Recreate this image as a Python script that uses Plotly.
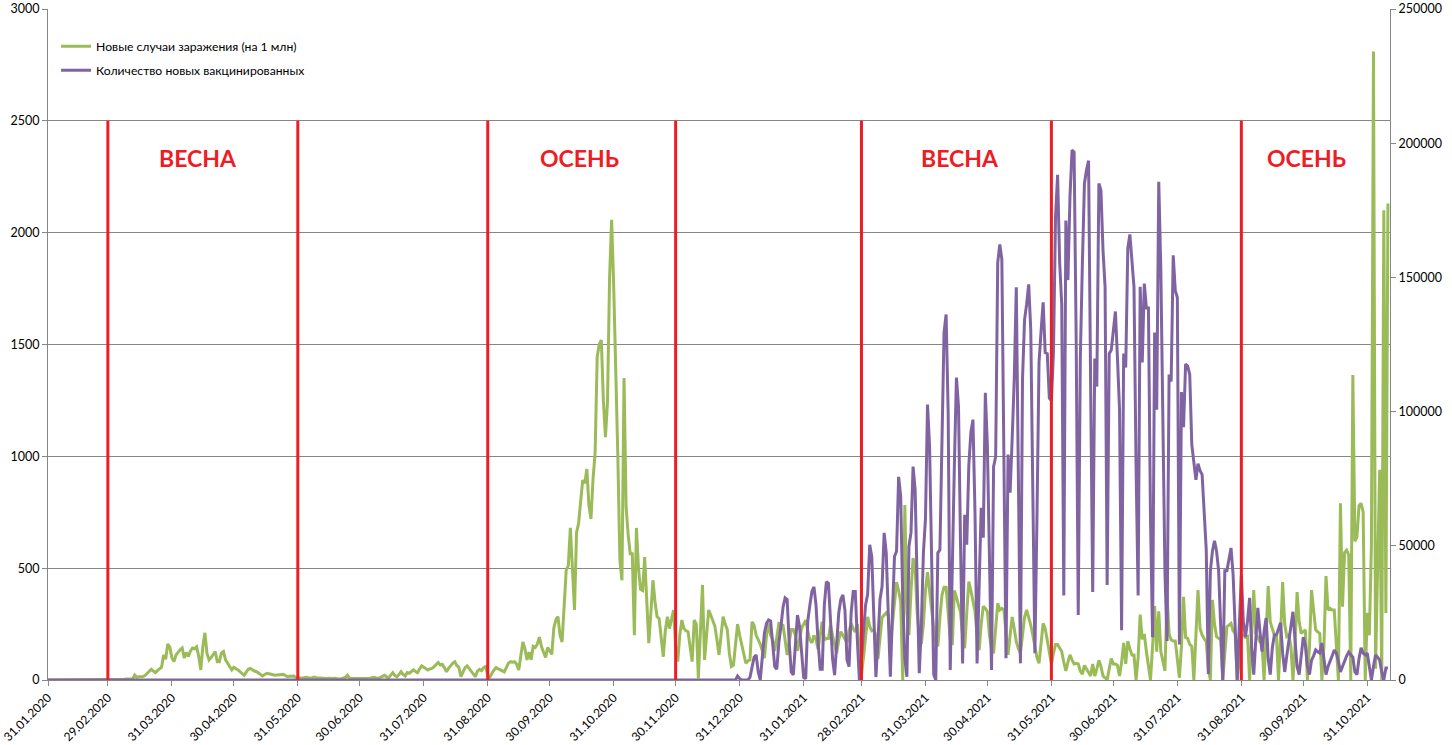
import plotly.graph_objects as go
import pandas as pd

# ---------------- data ----------------
start_date = "2020-01-31"

# new cases (per 1 mln), daily, left axis
green_cases = [
    0, 0, 0, 0, 0, 0, 0, 0, 0, 0,
    0, 0, 0, 0, 0, 0, 0, 0, 0, 0,
    0, 0, 0, 0, 0, 0, 0, 0, 0, 0,
    0, 0, 0, 0, 3, 3, 3, 3, 4, 4,
    5, 5, 22, 12, 15, 14, 16, 20, 30, 42,
    48, 40, 33, 42, 50, 57, 112, 93, 161, 147,
    100, 82, 112, 125, 135, 143, 98, 123, 105, 130,
    143, 140, 148, 105, 45, 150, 211, 119, 90, 100,
    115, 127, 82, 82, 120, 127, 90, 75, 60, 45,
    57, 52, 45, 37, 30, 21, 35, 48, 52, 45,
    40, 37, 30, 22, 18, 25, 30, 28, 25, 22,
    21, 22, 24, 25, 25, 20, 15, 17, 18, 18,
    12, 10, 7, 8, 10, 12, 10, 8, 10, 13,
    10, 9, 8, 10, 9, 7, 8, 6, 7, 8,
    6, 5, 6, 8, 12, 21, 8, 7, 7, 6,
    7, 8, 6, 5, 6, 7, 8, 10, 12, 9,
    8, 12, 15, 21, 14, 10, 22, 33, 20, 15,
    25, 37, 25, 18, 33, 30, 38, 45, 38, 33,
    50, 63, 57, 50, 45, 50, 52, 60, 70, 78,
    67, 70, 55, 37, 52, 65, 75, 82, 65, 57,
    15, 35, 55, 63, 50, 37, 25, 15, 40, 48,
    42, 55, 60, 20, 13, 30, 45, 55, 50, 45,
    38, 36, 55, 75, 82, 80, 82, 70, 45, 110,
    170, 140, 90, 125, 90, 150, 145, 160, 192, 150,
    125, 101, 145, 130, 115, 232, 270, 283, 200, 170,
    330, 492, 510, 680, 500, 313, 660, 700, 800, 894,
    880, 943, 780, 720, 900, 1015, 1445, 1500, 1520, 1250,
    1086, 1245, 1800, 2057, 1760, 1430, 1000, 535, 446, 1350,
    775, 650, 565, 565, 200, 680, 500, 405, 400, 550,
    380, 165, 300, 446, 350, 283, 275, 200, 104, 220,
    283, 230, 280, 313, 150, 82, 200, 268, 230, 220,
    216, 150, 82, 268, 250, 7, 200, 425, 90, 200,
    313, 290, 260, 240, 180, 112, 200, 283, 250, 226,
    120, 60, 66, 150, 250, 200, 155, 110, 75, 85,
    90, 260, 245, 200, 180, 160, 130, 98, 200, 253,
    200, 180, 130, 190, 253, 250, 245, 180, 112, 170,
    226, 226, 200, 130, 180, 232, 250, 268, 220, 180,
    166, 200, 180, 137, 200, 260, 180, 185, 185, 245,
    200, 160, 120, 180, 216, 200, 180, 166, 220, 253,
    230, 215, 250, 150, 22, 103, 200, 282, 240, 220,
    224, 200, 95, 200, 280, 290, 300, 288, 150, 250,
    350, 438, 400, 350, 0, 782, 300, 200, 400, 545,
    500, 300, 194, 160, 250, 400, 482, 400, 300, 230,
    170, 150, 280, 380, 415, 415, 300, 180, 157, 400,
    370, 340, 300, 200, 142, 300, 440, 400, 360, 306,
    200, 134, 250, 330, 320, 306, 200, 140, 119, 250,
    343, 313, 320, 313, 200, 112, 200, 282, 230, 171,
    140, 119, 200, 280, 313, 280, 246, 200, 142, 100,
    75, 180, 253, 230, 174, 119, 72, 120, 159, 159,
    140, 127, 80, 41, 80, 112, 90, 72, 75, 72,
    40, 26, 65, 50, 30, 18, 72, 18, 50, 88,
    60, 18, 10, 0, 50, 96, 72, 72, 65, 18,
    80, 166, 72, 174, 140, 112, 112, 0, 100, 292,
    182, 206, 127, 60, 0, 150, 331, 127, 307, 127,
    80, 41, 378, 206, 180, 174, 174, 100, 10, 150,
    372, 190, 186, 159, 150, 0, 200, 402, 230, 201,
    185, 171, 50, 0, 358, 250, 194, 185, 179, 0,
    120, 238, 245, 253, 220, 208, 0, 100, 194, 200,
    190, 194, 0, 200, 402, 208, 190, 170, 164, 0,
    200, 420, 260, 224, 200, 194, 0, 200, 438, 250,
    194, 201, 150, 0, 150, 393, 260, 208, 215, 224,
    0, 150, 402, 300, 224, 215, 208, 0, 150, 465,
    313, 320, 313, 313, 150, 0, 790, 328, 570, 580,
    560, 0, 1364, 620, 640, 780, 790, 750, 0, 300,
    200, 600, 2810, 50, 500, 940, 0, 2100, 300, 2130,
]

# newly vaccinated, daily, right axis (zero until the end of December 2020)
purple_vaccinated = [0] * 334 + [
    1500, 500, 0, 0, 0, 0,
    1000, 4500, 8500, 9300, 3000, 0, 8000, 17500, 21000, 22400,
    22000, 12000, 5000, 4000, 14000, 20000, 27000, 30600, 30000, 14000,
    3000, 1900, 15000, 24200, 20000, 9000, 1000, 500, 22000, 27800,
    33000, 34700, 27800, 14000, 4000, 4000, 27800, 36600, 36000, 22400,
    8000, 1800, 13000, 25000, 30000, 31700, 26000, 7500, 5000, 25000,
    33000, 33000, 15000, 0, 8000, 20000, 28000, 32000, 50400, 46000,
    25000, 1100, 15000, 30000, 35000, 54800, 47400, 20000, 1200, 25000,
    46000, 48000, 75700, 68400, 30000, 8000, 1200, 49700, 55000, 79500,
    70900, 35000, 2500, 20000, 47400, 60000, 102600, 87000, 40000, 2000,
    0, 47400, 48500, 90000, 129500, 136200, 99600, 3700, 47400, 80000,
    112700, 102000, 50000, 6200, 61600, 50400, 80000, 92200, 97000, 62300,
    6200, 40000, 64200, 53000, 107000, 87000, 40000, 3700, 79500, 83200,
    155500, 162300, 156700, 80000, 8100, 84000, 69800, 90000, 112000, 146300,
    80000, 6200, 112000, 134300, 140000, 147400, 130600, 70000, 10000, 60000,
    118300, 130000, 140700, 122000, 121600, 105000, 104100, 122000, 172600, 188200,
    155600, 139900, 31500, 171200, 149000, 180000, 197400, 196700, 126800, 24200,
    120000, 155000, 185000, 190000, 193500, 110000, 32800, 119800, 109300, 185000,
    182400, 160000, 146500, 35400, 121600, 122900, 130000, 137300, 120000, 100700,
    18500, 121600, 116400, 160800, 166000, 155000, 146500, 80000, 31500, 146500,
    118300, 147700, 138600, 138600, 60000, 15900, 129500, 100700, 185600, 153000,
    90000, 40000, 14500, 113800, 111200, 158200, 145100, 142500, 13200, 107300,
    94200, 117700, 117000, 113800, 87700, 80000, 74600, 80600, 78000, 76500,
    60000, 48500, 2200, 40700, 48000, 51900, 48000, 40700, 20000, 0,
    40700, 40700, 45000, 49200, 39400, 20000, 0, 20000, 39000, 21300,
    16000, 22000, 30600, 12000, 2000, 15000, 26900, 18000, 10600, 18000,
    23100, 8000, 2000, 12000, 16800, 16800, 19000, 21300, 10000, 3000,
    9000, 15000, 20000, 25400, 15000, 5000, 2000, 10000, 16000, 13000,
    5000, 2000, 7400, 9000, 11200, 10500, 10000, 13800, 7000, 2000,
    5000, 7400, 9000, 11200, 10000, 7000, 3000, 5000, 7400, 9000,
    10400, 9500, 8500, 3000, 2000, 8000, 12000, 10000, 9300, 10000,
    5000, 0, 5000, 9300, 8500, 7400, 3000, 0, 4500, 4500,
]

tick_labels = [
    "31.01.2020", "29.02.2020", "31.03.2020", "30.04.2020", "31.05.2020",
    "30.06.2020", "31.07.2020", "31.08.2020", "30.09.2020", "31.10.2020",
    "30.11.2020", "31.12.2020", "31.01.2021", "28.02.2021", "31.03.2021",
    "30.04.2021", "31.05.2021", "30.06.2021", "31.07.2021", "31.08.2021",
    "30.09.2021", "31.10.2021",
]

season_bounds = ["2020-02-29", "2020-05-31", "2020-08-31", "2020-11-30",
                 "2021-02-28", "2021-05-31", "2021-08-31"]
season_names = ["ВЕСНА", "ОСЕНЬ", "ВЕСНА", "ОСЕНЬ"]
season_label_x = ["2020-04-12 14:00", "2020-10-14 14:00",
                  "2021-04-16 22:00", "2021-10-01 17:00"]
season_label_y = 2334
season_line_top = 2500

series_names = ["Новые случаи заражения (на 1 млн)", "Количество новых вакцинированных"]

assert len(green_cases) == len(purple_vaccinated), (len(green_cases), len(purple_vaccinated))

# ---------------- figure ----------------
dates = pd.date_range(start_date, periods=len(green_cases), freq="D")
tick_vals = pd.to_datetime(tick_labels, format="%d.%m.%Y")

GREEN = "#9BBB59"
PURPLE = "#8064A2"
RED = "#EE1C25"
GRID = "#868686"
FONT = "Lato"

fig = go.Figure()
fig.add_trace(go.Scatter(x=dates, y=green_cases, name=series_names[0], mode="lines",
                         line=dict(color=GREEN, width=3), legendgroup="a"))
fig.add_trace(go.Scatter(x=dates, y=purple_vaccinated, name=series_names[1], mode="lines",
                         line=dict(color=PURPLE, width=3), yaxis="y2", legendgroup="b"))

for d in season_bounds:
    fig.add_shape(type="line", xref="x", yref="y", x0=d, x1=d, y0=0, y1=season_line_top,
                  line=dict(color=RED, width=3), layer="above")

for name, xd in zip(season_names, season_label_x):
    fig.add_annotation(x=xd, y=season_label_y, xref="x", yref="y", text=name,
                       showarrow=False, xanchor="center", yanchor="middle",
                       font=dict(family=FONT, size=23, color=RED, weight="bold"))

fig.update_layout(
    width=1452, height=745,
    margin=dict(l=48, r=62, t=9, b=65, autoexpand=False),
    paper_bgcolor="white", plot_bgcolor="white",
    font=dict(family=FONT, size=12, color="#000000"),
    showlegend=True,
    legend=dict(x=0.006, y=0.966, xanchor="left", yanchor="top",
                bgcolor="rgba(0,0,0,0)", font=dict(family=FONT, size=12.2, color="#000000"),
                traceorder="grouped", tracegroupgap=5),
    xaxis=dict(type="date", range=["2020-01-31", "2021-11-11"],
               tickvals=tick_vals, ticktext=tick_labels, tickangle=-45,
               showgrid=False, zeroline=False, showline=True, linecolor=GRID, linewidth=1,
               ticks="outside", ticklen=5, tickcolor=GRID,
               tickfont=dict(family=FONT, size=12, color="#000000")),
    yaxis=dict(range=[0, 3000], dtick=500, showgrid=True, gridcolor=GRID, gridwidth=1,
               zeroline=False, showline=True, linecolor=GRID, linewidth=1,
               ticks="outside", ticklen=5, tickcolor=GRID,
               tickfont=dict(family=FONT, size=12.5, color="#000000")),
    yaxis2=dict(range=[0, 250000], dtick=50000, overlaying="y", side="right",
                showgrid=False, zeroline=False, showline=True, linecolor=GRID, linewidth=1,
                ticks="outside", ticklen=5, tickcolor=GRID, tickformat="d",
                tickfont=dict(family=FONT, size=12.5, color="#000000")),
)

fig.write_html("out.html")
